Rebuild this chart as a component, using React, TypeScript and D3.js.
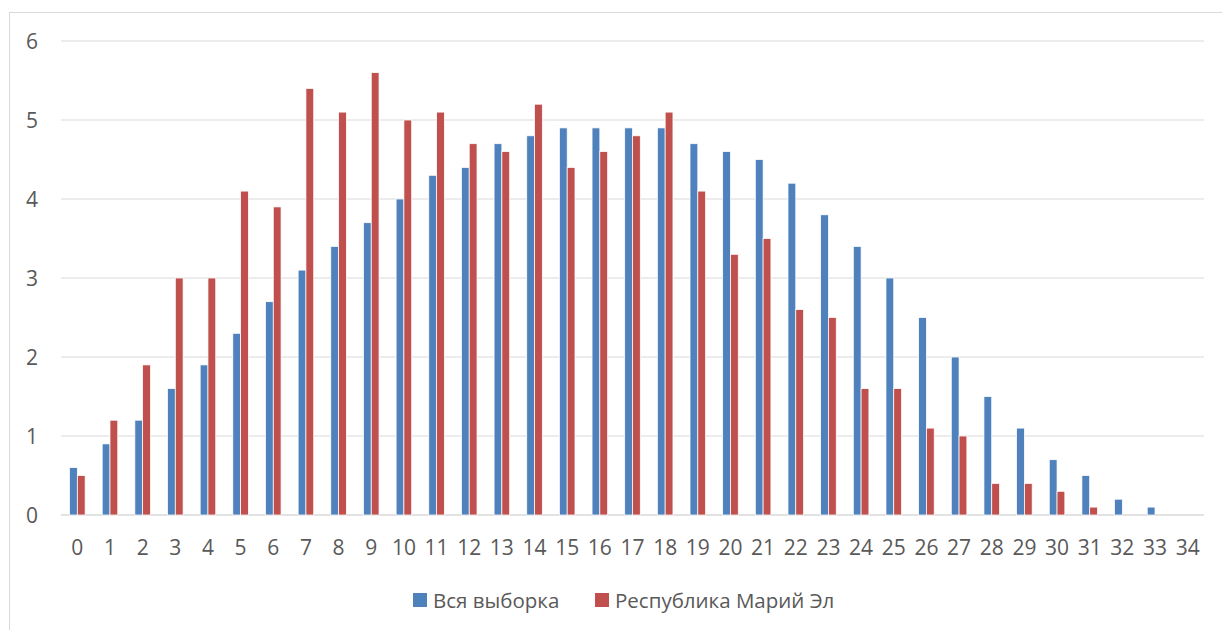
import React from "react";
import * as d3 from "d3";

const categories: string[] = Array.from({ length: 35 }, (_, i) => String(i));
const seriesNames: string[] = ["Вся выборка", "Республика Марий Эл"];
const allSample: number[] = [
  0.6, 0.9, 1.2, 1.6, 1.9, 2.3, 2.7, 3.1, 3.4, 3.7, 4.0, 4.3, 4.4, 4.7, 4.8, 4.9, 4.9, 4.9, 4.9, 4.7,
  4.6, 4.5, 4.2, 3.8, 3.4, 3.0, 2.5, 2.0, 1.5, 1.1, 0.7, 0.5, 0.2, 0.1, 0,
];
const mariEl: number[] = [
  0.5, 1.2, 1.9, 3.0, 3.0, 4.1, 3.9, 5.4, 5.1, 5.6, 5.0, 5.1, 4.7, 4.6, 5.2, 4.4, 4.6, 4.8, 5.1, 4.1,
  3.3, 3.5, 2.6, 2.5, 1.6, 1.6, 1.1, 1.0, 0.4, 0.4, 0.3, 0.1, 0, 0, 0,
];
const yTicks: number[] = [0, 1, 2, 3, 4, 5, 6];
const colors: string[] = ["#4f81bd", "#c0504d"];

const W = 1222;
const H = 630;
const plot = { left: 61, right: 1204, top: 41, bottom: 515 };
const FONT = "'Open Sans', sans-serif";
const FS = 21;
const LFS = 20.5;

export default function App() {
  const x = d3.scaleBand<string>().domain(categories).range([plot.left, plot.right]).paddingInner(0).paddingOuter(0);
  const y = d3.scaleLinear().domain([0, 6]).range([plot.bottom, plot.top]);
  const step = x.bandwidth();
  const barW = step / (2 + 2.19);
  const series = [allSample, mariEl];

  return (
    <svg
      width={W}
      height={H}
      style={{ position: "absolute", left: 0, top: 0, background: "#fff" }}
      fontFamily={FONT}
    >
      <rect x={0} y={0} width={W} height={H} fill="#fff" />
      <rect x={9.5} y={12.5} width={W + 20} height={H + 20} fill="none" stroke="#d9d9d9" strokeWidth={1} />
      {yTicks.map((t) => (
        <g key={t}>
          <line x1={plot.left} x2={plot.right} y1={y(t)} y2={y(t)} stroke="#d9d9d9" strokeWidth={t === 0 ? 1.5 : 1.2} />
          <text x={38} y={y(t) + 7.5} textAnchor="end" fontSize={FS} fill="#595959">
            {t}
          </text>
        </g>
      ))}
      {series.map((vals, si) => (
        <g key={si}>
          {vals.map((v, i) => {
            if (v <= 0) return null;
            const cx = (x(categories[i]) as number) + step / 2;
            const bx = cx - barW + si * barW;
            return (
              <rect
                key={i}
                x={bx}
                y={y(v)}
                width={barW}
                height={y(0) - y(v)}
                fill={colors[si]}
                stroke="#fff"
                strokeWidth={0.75}
              />
            );
          })}
        </g>
      ))}
      {categories.map((c) => (
        <text
          key={c}
          x={(x(c) as number) + step / 2}
          y={554.5}
          textAnchor="middle"
          fontSize={FS}
          fill="#595959"
        >
          {c}
        </text>
      ))}
      <g>
        <rect x={413} y={593} width={14} height={14} fill={colors[0]} />
        <text x={433} y={607.5} fontSize={LFS} fill="#595959">
          {seriesNames[0]}
        </text>
        <rect x={595} y={593} width={14} height={14} fill={colors[1]} />
        <text x={615} y={607.5} fontSize={LFS} fill="#595959">
          {seriesNames[1]}
        </text>
      </g>
    </svg>
  );
}
